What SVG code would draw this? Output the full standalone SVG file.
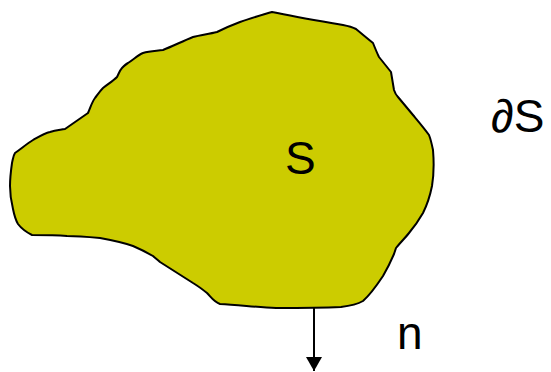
<svg xmlns="http://www.w3.org/2000/svg" width="551" height="372" viewBox="0 0 551 372">
<style>
.lbl{font-family:"Liberation Sans",Arial,sans-serif;font-size:46px;fill:#000}
.shape{fill:#CCCC00;stroke:#000;stroke-width:2;stroke-linejoin:round}
.conn{stroke:#000;stroke-width:2;fill:none}
</style>
<defs>
<marker id="ah" markerWidth="14" markerHeight="16" refX="14" refY="8" orient="auto" markerUnits="userSpaceOnUse" viewBox="0 0 14 16">
<path d="M0,0 L14,8 L0,16 Z" fill="#000"/>
</marker>
</defs>
<g id="region">
<path class="shape" d="M15,153 C22,148 28,143 33,140 C40,136 45,133 50,132 C56,130 60,130 65,129 L88,113 C91,106 92,102 95,98 C98,94 100,91 103,88 C108,84 113,81 117,77 C119,73 120,70 122,68 C124,66 126,64 128,63 C133,60 138,55 143,53 C150,51 156,51 163,50 C173,46 183,41 193,37 C201,35 209,34 217,32 C225,28 232,25 240,22 C251,18 262,15 272,12 C296,17 320,21 343,25 C348,26 352,27 356,29 C362,34 368,39 373,43 C375,48 377,53 379,57 C383,62 387,67 391,72 C392,78 393,84 394,90 C395,93 396,95 398,97 C403,103 408,109 413,115 C418,121 424,128 429,135 C431,140 432,145 433,150 C434,162 434,174 432,186 C430,196 427,205 423,213 C419,220 414,227 409,233 C405,238 400,243 396,248 L394,254 C391,261 387,269 383,276 C377,285 371,294 363,301 C356,305 349,306 341,307 C319,308 298,308 276,308 C257,307 238,305 220,304 C214,302 211,297 207,293 C202,289 198,286 193,283 C182,276 171,269 160,262 C158,260 155,258 153,256 C146,252 140,249 133,246 C122,242 111,240 100,238 C89,237 78,236 67,236 C55,235 44,235 32,235 C26,232 21,228 18,224 C15,219 14,214 13,209 C11,201 10,194 10,186 C10,178 11,170 12,163 C13,159 13,156 15,153 Z"/>
</g>
<g id="connectors">
<line class="conn" x1="314" y1="308" x2="314" y2="371" marker-end="url(#ah)"/>
</g>
<g id="labels">
<text class="lbl" x="285" y="174">S</text>
<text class="lbl" x="491" y="132">∂S</text>
<text class="lbl" x="397" y="349">n</text>
</g>
</svg>
